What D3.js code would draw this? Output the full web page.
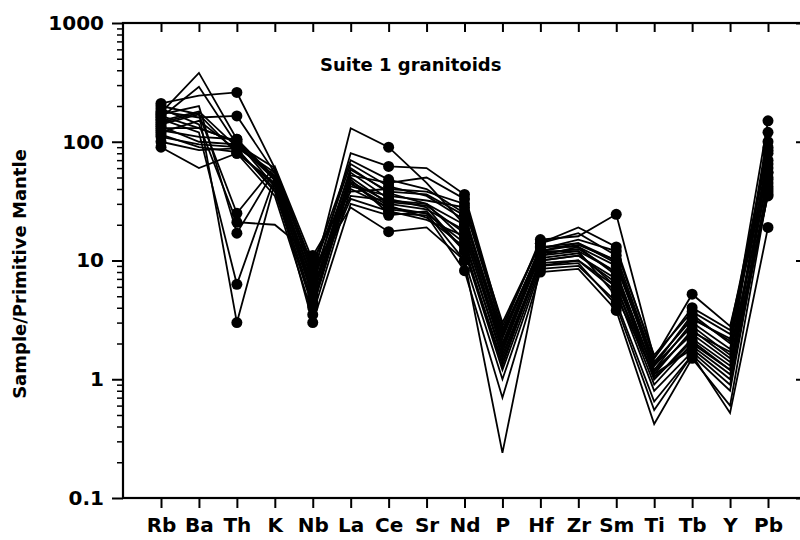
<!DOCTYPE html>
<html><head><meta charset="utf-8">
<script src="https://cdn.jsdelivr.net/npm/d3@7/dist/d3.min.js"></script>
<style>body{margin:0;background:#fff}svg{display:block}</style>
</head><body>
<svg id="chart" width="800" height="540"></svg>
<script>
const elements = ["Rb","Ba","Th","K","Nb","La","Ce","Sr","Nd","P","Hf","Zr","Sm","Ti","Tb","Y","Pb"];
const markerElements = ["Rb","Th","Nb","Ce","Nd","Hf","Sm","Tb","Pb"];
const yTickValues = [0.1, 1, 10, 100, 1000];
const yTickLabels = ["0.1", "1", "10", "100", "1000"];
const title = "Suite 1 granitoids";
const yTitle = "Sample/Primitive Mantle";

const s01 = [210,245,260,60,9,70,48,40,25,2.0,12,14,10,1.2,3.0,1.8,100];
const s02 = [180,160,165,55,8,65,42,35,22,2.3,13,13,9,1.3,3.5,2.0,150];
const s03 = [175,380,105,50,7,130,90,45,20,1.8,11,12,8,1.1,2.6,1.5,120];
const s04 = [160,290,95,48,6,80,62,60,36,2.8,14,19,13,1.5,4.0,2.6,90];
const s05 = [150,180,90,52,5.5,60,37,30,15,1.5,10,11,7,1.0,2.2,1.3,80];
const s06 = [140,170,80,45,5,55,33,28,12,1.2,9,10,6,0.9,2.0,1.2,65];
const s07 = [130,130,100,42,4.5,50,30,27,18,2.0,12,12,5,1.1,1.8,1.0,55];
const s08 = [120,150,85,40,4,45,27,25,10,1.0,8.5,9,4.5,0.65,1.6,0.8,45];
const s09 = [110,95,90,55,6.5,48,25,24,8.2,0.7,8,8.5,3.8,0.42,1.5,0.6,38];
const s10 = [90,60,80,35,3.5,40,28,25,14,1.6,10,11,6.5,1.2,2.4,1.4,35];
const s11 = [200,170,25,62,10,42,35,32,28,2.6,15,16,24.5,1.5,5.2,2.8,60];
const s12 = [190,140,21,20,11,38,40,38,30,3.0,14,17,11,1.4,3.2,2.2,70];
const s13 = [170,200,17,58,7.5,35,32,30,20,2.2,13,14,9.5,1.3,2.8,1.6,50];
const s14 = [155,120,6.3,50,6,33,26,22,16,1.9,11,13,7.5,1.0,2.1,1.2,42];
const s15 = [145,175,3.0,45,3.0,30,24,26,12,1.4,9.5,10,5.5,0.8,1.7,0.9,40];
const s16 = [135,100,95,60,8.5,28,17.5,19,10,0.24,9,9.5,4.2,0.55,1.6,0.52,19];
const s17 = [125,110,105,47,5,52,45,50,33,2.5,12.5,15,12,1.6,3.7,2.4,55];
const s18 = [100,85,88,38,4.2,46,31,29,17,1.7,11.5,12.5,8,1.15,2.5,1.7,48];
const s19 = [165,130,100,50,7,58,38,36,24,2.4,12,13.5,10,1.35,3.3,2.1,85];
const s20 = [115,90,82,43,5.5,44,29,23,13,1.3,10.5,11.5,6,1.05,1.9,1.1,36];
const samples = [s01,s02,s03,s04,s05,s06,s07,s08,s09,s10,s11,s12,s13,s14,s15,s16,s17,s18,s19,s20];

(function () {
const svg = d3.select("#chart");
const pL = 123, pR = 806, pT = 23, pB = 498;
const font = "'DejaVu Sans', 'Liberation Sans', Arial, sans-serif";

const x = d3.scalePoint().domain(elements).range([161, 768]);
const y = d3.scaleLog().domain([0.1, 1000]).range([pB, pT]);

const minorVals = [];
for (let e = -1; e < 3; e++) for (let m = 2; m <= 9; m++) minorVals.push(m * Math.pow(10, e));

svg.append("g").attr("transform", `translate(${pL},0)`)
  .call(d3.axisLeft(y).tickValues(minorVals).tickSize(6).tickFormat(""))
  .call(g => g.select(".domain").remove())
  .call(g => g.selectAll("line").attr("stroke", "#000").attr("stroke-width", 1.5));
svg.append("g").attr("transform", `translate(${pL},0)`)
  .call(d3.axisLeft(y).tickValues(yTickValues).tickSize(11).tickPadding(8)
    .tickFormat((d, i) => yTickLabels[i]))
  .call(g => g.select(".domain").remove())
  .call(g => g.selectAll("line").attr("stroke", "#000").attr("stroke-width", 2))
  .call(g => g.selectAll("text").attr("font-family", font).attr("font-weight", "bold")
    .attr("font-size", 20).attr("fill", "#000"));

svg.append("g").attr("transform", `translate(${pR},0)`)
  .call(d3.axisRight(y).tickValues(minorVals).tickSize(-5).tickFormat(""))
  .call(g => g.select(".domain").remove())
  .call(g => g.selectAll("line").attr("stroke", "#000").attr("stroke-width", 1.2));
svg.append("g").attr("transform", `translate(${pR},0)`)
  .call(d3.axisRight(y).tickValues(yTickValues).tickSize(-10).tickFormat(""))
  .call(g => g.select(".domain").remove())
  .call(g => g.selectAll("line").attr("stroke", "#000").attr("stroke-width", 2));

svg.append("g").attr("transform", `translate(0,${pB})`)
  .call(d3.axisBottom(x).tickSize(10).tickPadding(10))
  .call(g => g.select(".domain").remove())
  .call(g => g.selectAll("line").attr("stroke", "#000").attr("stroke-width", 2))
  .call(g => g.selectAll("text").attr("font-family", font).attr("font-weight", "bold")
    .attr("font-size", 20).attr("fill", "#000"));

svg.append("g").attr("transform", `translate(0,${pT})`)
  .call(d3.axisTop(x).tickSize(-9).tickFormat(""))
  .call(g => g.select(".domain").remove())
  .call(g => g.selectAll("line").attr("stroke", "#000").attr("stroke-width", 2));

svg.append("rect").attr("x", pL).attr("y", pT).attr("width", pR - pL).attr("height", pB - pT)
  .attr("fill", "none").attr("stroke", "#000").attr("stroke-width", 2.2);

const line = d3.line().x((d, i) => x(elements[i])).y(d => y(d));
svg.append("g").selectAll("path").data(samples).join("path")
  .attr("d", line).attr("fill", "none").attr("stroke", "#000").attr("stroke-width", 1.8)
  .attr("stroke-linejoin", "miter");

const pts = [];
samples.forEach(s => s.forEach((v, i) => { if (markerElements.includes(elements[i])) pts.push([elements[i], v]); }));
svg.append("g").selectAll("circle").data(pts).join("circle")
  .attr("cx", d => x(d[0])).attr("cy", d => y(d[1])).attr("r", 5.5).attr("fill", "#000");

svg.append("text").attr("x", 320).attr("y", 71).text(title)
  .attr("font-family", font).attr("font-weight", "bold").attr("font-size", 18).attr("fill", "#000");
svg.append("text").attr("transform", "translate(26,274) rotate(-90)").attr("text-anchor", "middle")
  .text(yTitle).attr("font-family", font).attr("font-weight", "bold").attr("font-size", 18).attr("fill", "#000");
})();
</script>
</body></html>
